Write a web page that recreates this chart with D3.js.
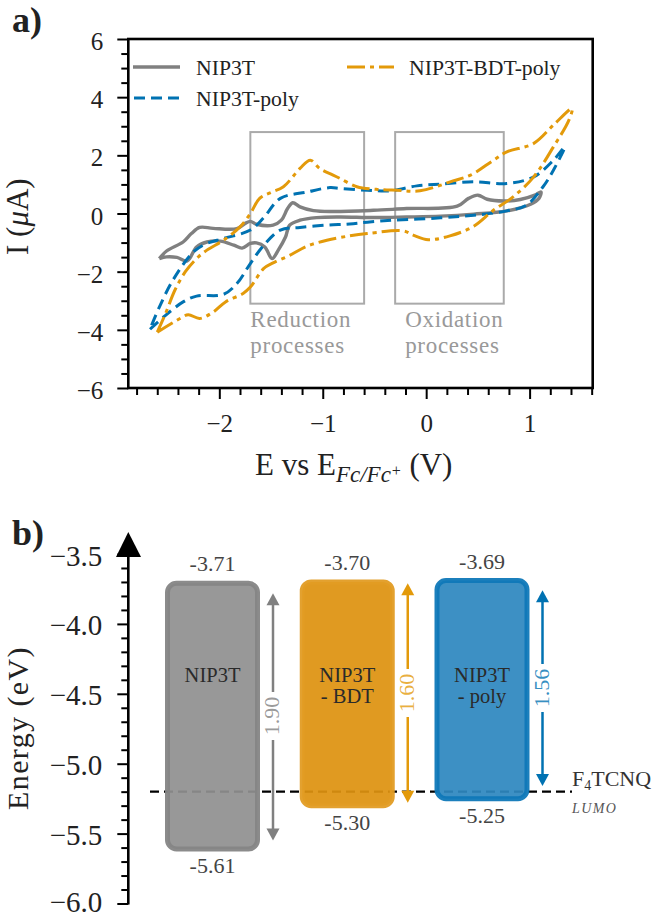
<!DOCTYPE html>
<html>
<head>
<meta charset="utf-8">
<script src="https://cdn.jsdelivr.net/npm/d3@7"></script>
<style>
  html, body { margin: 0; padding: 0; background: #fff; }
  svg { display: block; }
  text { font-family: "Liberation Serif", serif; }
</style>
</head>
<body>
<div id="chart"></div>
<script>
// panel a: cyclic voltammograms, [E (V), I (uA)]
const nip3t = [[-2.58,-1.55],[-2.51,-1.29],[-2.35,-0.98],[-2.27,-0.69],[-2.19,-0.48],[-2.06,-0.51],[-1.83,-0.52],
  [-1.75,-0.34],[-1.70,-0.27],[-1.64,-0.37],[-1.48,-0.40],[-1.40,-0.23],[-1.34,0.17],[-1.29,0.37],[-1.22,0.23],
  [-1.09,0.10],[-0.90,0.07],[-0.51,0.11],[-0.19,0.17],[0.30,0.25],[0.41,0.52],[0.50,0.63],[0.59,0.49],[0.75,0.43],
  [0.91,0.48],[1.05,0.63],[1.11,0.74],[1.09,0.52],[1.01,0.32],[0.78,0.09],[0.46,-0.02],[0.14,-0.09],[-0.19,-0.12],
  [-0.51,-0.14],[-0.83,-0.12],[-1.06,-0.14],[-1.22,-0.23],[-1.32,-0.40],[-1.36,-0.81],[-1.43,-1.26],[-1.49,-1.55],
  [-1.56,-1.15],[-1.64,-1.01],[-1.70,-1.03],[-1.78,-1.19],[-1.86,-1.09],[-1.99,-0.95],[-2.12,-0.98],[-2.22,-1.15],
  [-2.31,-1.63],[-2.41,-1.51],[-2.51,-1.49],[-2.58,-1.55]];
const nip3tPoly = [[-2.67,-3.98],[-2.52,-3.50],[-2.35,-3.04],[-2.22,-2.84],[-1.96,-2.78],[-1.83,-2.41],[-1.70,-1.72],
  [-1.57,-1.09],[-1.41,-0.57],[-1.22,-0.48],[-0.96,-0.40],[-0.74,-0.36],[-0.57,-0.30],[-0.32,-0.23],[0.14,-0.15],
  [0.46,-0.06],[0.78,0.09],[0.97,0.29],[1.13,0.92],[1.23,1.49],[1.34,2.29],[1.23,1.83],[1.04,1.26],[0.78,1.03],
  [0.46,1.09],[0.14,1.01],[-0.09,0.95],[-0.35,0.78],[-0.57,0.80],[-0.83,0.86],[-0.93,0.89],[-1.15,0.74],[-1.41,0.52],
  [-1.57,-0.14],[-1.70,-0.57],[-1.96,-0.86],[-2.12,-1.03],[-2.25,-1.32],[-2.45,-2.30],[-2.58,-3.22],[-2.67,-3.98]];
const nip3tBdtPoly = [[-2.60,-4.08],[-2.38,-3.61],[-2.30,-3.48],[-2.19,-3.61],[-2.06,-3.39],[-1.94,-3.04],[-1.77,-2.75],
  [-1.70,-2.53],[-1.57,-1.89],[-1.48,-1.70],[-1.32,-1.44],[-1.15,-1.12],[-0.96,-0.92],[-0.74,-0.77],[-0.57,-0.69],
  [-0.22,-0.60],[-0.12,-0.75],[0.02,-0.90],[0.23,-0.77],[0.46,-0.44],[0.65,0.11],[0.84,0.57],[1.04,1.26],[1.23,2.29],
  [1.38,3.21],[1.41,3.61],[1.23,3.04],[1.04,2.41],[0.78,2.12],[0.65,1.83],[0.43,1.32],[0.26,1.12],[-0.06,0.78],
  [-0.28,0.80],[-0.48,0.83],[-0.67,0.92],[-0.83,1.20],[-0.90,1.32],[-1.03,1.55],[-1.12,1.83],[-1.22,1.55],[-1.38,0.92],
  [-1.51,0.71],[-1.61,0.52],[-1.70,0.0],[-1.80,-0.46],[-1.96,-0.92],[-2.12,-1.26],[-2.22,-1.55],[-2.33,-2.01],
  [-2.43,-2.64],[-2.52,-3.44],[-2.60,-4.08]];

// grey process windows: [Emin, Emax, Imin, Imax]
const processLabels = [["Reduction", "processes"], ["Oxidation", "processes"]];
const processBoxes = [[-1.70, -0.60, -3.1, 2.8], [-0.30, 0.75, -3.1, 2.8]];

const xMajor = [-2, -1, 0, 1];
const xMinor = [-2.8,-2.6,-2.4,-2.2,-1.8,-1.6,-1.4,-1.2,-0.8,-0.6,-0.4,-0.2,0.2,0.4,0.6,0.8,1.2,1.4,1.6];
const yMajorA = [-6, -4, -2, 0, 2, 4, 6];
const yMinorA = [-5.5,-5,-4.5,-3.5,-3,-2.5,-1.5,-1,-0.5,0.5,1,1.5,2.5,3,3.5,4.5,5,5.5];

// panel b: energy levels
const materials = ["NIP3T", "NIP3T-BDT", "NIP3T-poly"];
const materialLines = [["NIP3T"], ["NIP3T", "- BDT"], ["NIP3T", "- poly"]];
const lumo = [-3.71, -3.70, -3.69];
const homo = [-5.61, -5.30, -5.25];
const gaps = ["1.90", "1.60", "1.56"];
const arrowTop = [-3.78, -3.71, -3.76];
const arrowBottom = [-5.55, -5.28, -5.16];
const f4tcnqLumo = -5.2;
const yMajorB = [-6, -5.5, -5, -4.5, -4, -3.5];
const yMinorB = [-5.9,-5.8,-5.7,-5.6,-5.4,-5.3,-5.2,-5.1,-4.9,-4.8,-4.7,-4.6,-4.4,-4.3,-4.2,-4.1,-3.9,-3.8,-3.7,-3.6];

const grey = "#808080", blue = "#0072B2", orange = "#E39A0A";
const colors = [grey, orange, blue];
const boxFill = ["#909090", "#DE9210", "#2E88C0"];
const boxStroke = ["#858585", "#E29C24", "#0F78B8"];

const svg = d3.select("#chart").append("svg").attr("width", 657).attr("height", 918);

// ---------- panel a ----------
const xA = d3.scaleLinear().domain([-2.88, 1.61]).range([128.3, 592.7]);
const yA = d3.scaleLinear().domain([-6, 6]).range([388, 39]);

function styleAxis(g, size) {
  g.select(".domain").remove();
  g.selectAll(".tick line").attr("stroke", "#000").attr("stroke-width", 2);
  g.selectAll(".tick text").attr("font-size", size).attr("fill", "#222");
}

svg.append("g").attr("transform", "translate(0,388)")
  .call(d3.axisBottom(xA).tickValues(xMajor).tickSize(11).tickPadding(15).tickFormat(d3.format("d")))
  .call(styleAxis, "25px");
svg.append("g").attr("transform", "translate(0,388)")
  .call(d3.axisBottom(xA).tickValues(xMinor).tickSize(7).tickFormat(""))
  .call(styleAxis, "25px");
svg.append("g").attr("transform", "translate(128.3,0)")
  .call(d3.axisLeft(yA).tickValues(yMajorA).tickSize(11).tickPadding(14).tickFormat(d3.format("d")))
  .call(styleAxis, "25px")
  .call(g => g.selectAll(".tick text").attr("dy", "0.42em"));
svg.append("g").attr("transform", "translate(128.3,0)")
  .call(d3.axisLeft(yA).tickValues(yMinorA).tickSize(7).tickFormat(""))
  .call(styleAxis, "25px");

// spines
svg.append("rect")
  .attr("x", xA.range()[0]).attr("y", yA.range()[1])
  .attr("width", xA.range()[1] - xA.range()[0]).attr("height", yA.range()[0] - yA.range()[1])
  .attr("fill", "none").attr("stroke", "#000").attr("stroke-width", 2.6);

// process windows
svg.selectAll(".procBox").data(processBoxes).enter().append("rect")
  .attr("class", "procBox")
  .attr("x", d => xA(d[0]))
  .attr("y", d => yA(d[3]))
  .attr("width", d => xA(d[1]) - xA(d[0]))
  .attr("height", d => yA(d[2]) - yA(d[3]))
  .attr("fill", "none").attr("stroke", "#aaa").attr("stroke-width", 2);

processLabels.forEach((lines, i) => {
  lines.forEach((line, j) => {
    svg.append("text")
      .attr("x", xA(processBoxes[i][0]) + (i == 0 ? 0 : 10))
      .attr("y", 327 + j * 26)
      .attr("font-size", "23px")
      .attr("letter-spacing", "0.7px")
      .attr("fill", "#999")
      .text(line);
  });
});

// curves
const cvLine = d3.line().x(d => xA(d[0])).y(d => yA(d[1])).curve(d3.curveCatmullRom.alpha(0.5));
const cvSeries = [
  {name: "NIP3T", values: nip3t, color: grey, width: 3.4, dash: null},
  {name: "NIP3T-poly", values: nip3tPoly, color: blue, width: 3, dash: "11,6"},
  {name: "NIP3T-BDT-poly", values: nip3tBdtPoly, color: orange, width: 3, dash: "18,5,4,5"}
];
svg.selectAll(".cv").data(cvSeries).enter().append("path")
  .attr("class", "cv")
  .attr("d", d => cvLine(d.values))
  .attr("fill", "none")
  .attr("stroke", d => d.color)
  .attr("stroke-width", d => d.width)
  .attr("stroke-dasharray", d => d.dash);

// legend
const legendPos = [[133, 67, 196], [134, 98, 196], [347, 67, 409]];
cvSeries.forEach((s, i) => {
  const p = legendPos[i];
  svg.append("line")
    .attr("x1", p[0]).attr("x2", p[0] + 47).attr("y1", p[1]).attr("y2", p[1])
    .attr("stroke", s.color).attr("stroke-width", s.width).attr("stroke-dasharray", s.dash);
  svg.append("text")
    .attr("x", p[2]).attr("y", p[1] + 8)
    .attr("font-size", "21.7px").attr("fill", "#222")
    .text(s.name);
});

// axis titles a
const xTitle = svg.append("text").attr("x", 255).attr("y", 475).attr("font-size", "31px").attr("fill", "#222");
xTitle.append("tspan").text("E vs E");
xTitle.append("tspan").attr("dy", 7).attr("font-size", "23px").attr("font-style", "italic").text("Fc/Fc");
xTitle.append("tspan").attr("dy", -6).attr("font-size", "16px").attr("font-style", "italic").text("+");
xTitle.append("tspan").attr("dy", -1).text(" (V)");

const yTitle = svg.append("text")
  .attr("transform", "translate(28,255) rotate(-90)")
  .attr("font-size", "31px").attr("fill", "#222");
yTitle.append("tspan").text("I (");
yTitle.append("tspan").attr("font-style", "italic").text("μ");
yTitle.append("tspan").text("A)");

svg.append("text").attr("x", 12).attr("y", 32).attr("font-size", "36px").attr("font-weight", "bold").attr("fill", "#222").text("a)");
svg.append("text").attr("x", 12).attr("y", 545).attr("font-size", "36px").attr("font-weight", "bold").attr("fill", "#222").text("b)");

// ---------- panel b ----------
const yB = d3.scaleLinear().domain([-6, -3.5]).range([903.5, 554]);
const xB = d3.scalePoint().domain(materials).range([212.5, 482]);
const boxW = 90;

svg.append("g").attr("transform", "translate(128.3,0)")
  .call(d3.axisLeft(yB).tickValues(yMajorB).tickSize(11).tickPadding(15).tickFormat(d3.format(".1f")))
  .call(styleAxis, "29px")
  // lowest label sits a bit higher so it stays inside the page
  .call(g => g.selectAll(".tick text").attr("dy", d => d == -6 ? "0.27em" : "0.38em"));
svg.append("g").attr("transform", "translate(128.3,0)")
  .call(d3.axisLeft(yB).tickValues(yMinorB).tickSize(7).tickFormat(""))
  .call(styleAxis, "29px");
svg.append("line").attr("x1", 128.3).attr("x2", 128.3).attr("y1", 557).attr("y2", yB(-6) + 1)
  .attr("stroke", "#000").attr("stroke-width", 2.6);
svg.append("path").attr("d", "M116,557 L141,557 L128.3,532 Z").attr("fill", "#000");

svg.append("text")
  .attr("transform", "translate(28,810) rotate(-90)")
  .attr("font-size", "30px").attr("letter-spacing", "1.4px").attr("fill", "#222")
  .text("Energy (eV)");

// F4TCNQ level, drawn under the boxes so it only shows faintly through them
svg.append("line")
  .attr("x1", 150).attr("x2", 572).attr("y1", yB(f4tcnqLumo)).attr("y2", yB(f4tcnqLumo))
  .attr("stroke", "#000").attr("stroke-width", 2.2).attr("stroke-dasharray", "9,5");

svg.selectAll(".level").data(materials).enter().append("rect")
  .attr("class", "level")
  .attr("x", d => xB(d) - boxW / 2)
  .attr("y", (d, i) => yB(lumo[i]))
  .attr("width", boxW)
  .attr("height", (d, i) => yB(homo[i]) - yB(lumo[i]))
  .attr("rx", 9).attr("ry", 9)
  .attr("fill", (d, i) => boxFill[i])
  .attr("fill-opacity", 0.93)
  .attr("stroke", (d, i) => boxStroke[i])
  .attr("stroke-opacity", 0.95)
  .attr("stroke-width", 5);

materials.forEach((m, i) => {
  const cx = xB(m);
  svg.append("text").attr("x", cx).attr("y", yB(lumo[i]) - 12)
    .attr("text-anchor", "middle").attr("font-size", "22px").attr("fill", "#444").text(lumo[i].toFixed(2));
  svg.append("text").attr("x", cx).attr("y", yB(homo[i]) + 24)
    .attr("text-anchor", "middle").attr("font-size", "22px").attr("fill", "#444").text(homo[i].toFixed(2));
  materialLines[i].forEach((line, j) => {
    svg.append("text").attr("x", cx).attr("y", 682 + j * 21)
      .attr("text-anchor", "middle").attr("font-size", "20.5px").attr("fill", "#2a2a2a").text(line);
  });

  // gap arrow
  const ax = cx + 60.5, top = yB(arrowTop[i]), bottom = yB(arrowBottom[i]);
  svg.append("line").attr("x1", ax).attr("x2", ax).attr("y1", top + 8).attr("y2", bottom - 8)
    .attr("stroke", colors[i]).attr("stroke-width", 2.5);
  svg.append("path")
    .attr("d", `M${ax},${top} l6.5,12 h-13 Z`)
    .attr("fill", colors[i]);
  svg.append("path")
    .attr("d", `M${ax},${bottom} l6.5,-12 h-13 Z`)
    .attr("fill", colors[i]);
  const my = [716, 693, 688][i];
  svg.append("rect").attr("x", ax - 8).attr("y", my - 24).attr("width", 16).attr("height", 48).attr("fill", "#fff");
  svg.append("text")
    .attr("transform", `translate(${ax + 6},${my}) rotate(-90)`)
    .attr("text-anchor", "middle").attr("font-size", "22px")
    .attr("fill", colors[i]).attr("fill-opacity", 0.8)
    .text(gaps[i]);
});

// F4TCNQ label
const f4 = svg.append("text").attr("x", 572).attr("y", 786).attr("font-size", "22px").attr("fill", "#333");
f4.append("tspan").text("F");
f4.append("tspan").attr("dy", 4).attr("font-size", "14px").text("4");
f4.append("tspan").attr("dy", -4).text("TCNQ");
svg.append("text").attr("x", 572).attr("y", 813)
  .attr("font-size", "14px").attr("font-style", "italic").attr("letter-spacing", "1.4px").attr("fill", "#555").text("LUMO");
</script>
</body>
</html>
